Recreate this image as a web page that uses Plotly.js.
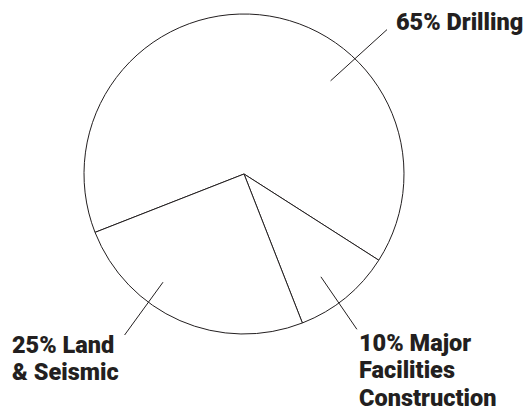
<!DOCTYPE html>
<html>
<head>
<meta charset="utf-8">
<script src="https://cdn.plot.ly/plotly-3.0.1.min.js"></script>
<style>html,body{margin:0;padding:0;background:#fff;}#chart{width:526px;height:409px;}</style>
</head>
<body>
<div id="chart"></div>
<script>
// Data
const categories = ["Drilling", "Major Facilities Construction", "Land & Seismic"];
const shares = [65, 10, 25];
const labelLines = [["65% Drilling"], ["10% Major", "Facilities", "Construction"], ["25% Land", "& Seismic"]];

const W = 526, H = 409;
const px = x => x / W;
const py = y => 1 - y / H;
const ink = "#231f20";

// Pie geometry (pixels)
const cx = 244, cy = 174, r = 160;

const trace = {
  type: "pie",
  labels: categories,
  values: shares,
  sort: false,
  direction: "clockwise",
  rotation: 248.6,
  textinfo: "none",
  hoverinfo: "label+percent",
  marker: { colors: ["#ffffff", "#ffffff", "#ffffff"], line: { color: ink, width: 1 } },
  domain: { x: [px(cx - r), px(cx + r)], y: [py(cy + r), py(cy - r)] },
  showlegend: false
};

// label placement (pixels): text left, first line top, line step, leader line ends
const placements = [
  { tx: 394, ty: 5.5, step: 27.5, l: [[330.6, 80.8], [387, 29.6]] },
  { tx: 357, ty: 326.5, step: 27.5, l: [[320.9, 276.8], [356.9, 329.3]] },
  { tx: 10, ty: 329, step: 27, l: [[163, 282.2], [124.6, 335]] }
];

const annotations = [];
placements.forEach((p, i) => {
  labelLines[i].forEach((line, j) => {
    annotations.push({
      xref: "paper", yref: "paper",
      x: px(p.tx), y: py(p.ty + j * p.step),
      xanchor: "left", yanchor: "top", align: "left",
      showarrow: false,
      text: line,
      font: { family: "Roboto", size: 23.5, color: ink, weight: 900 }
    });
  });
});

const shapes = placements.map(p => ({
  type: "line", xref: "paper", yref: "paper",
  x0: px(p.l[0][0]), y0: py(p.l[0][1]), x1: px(p.l[1][0]), y1: py(p.l[1][1]),
  line: { color: ink, width: 1 }
}));

const layout = {
  width: W, height: H,
  margin: { l: 0, r: 0, t: 0, b: 0 },
  paper_bgcolor: "#ffffff",
  plot_bgcolor: "#ffffff",
  annotations: annotations,
  shapes: shapes,
  showlegend: false
};

Plotly.newPlot("chart", [trace], layout, { displayModeBar: false, staticPlot: true });
</script>
</body>
</html>
